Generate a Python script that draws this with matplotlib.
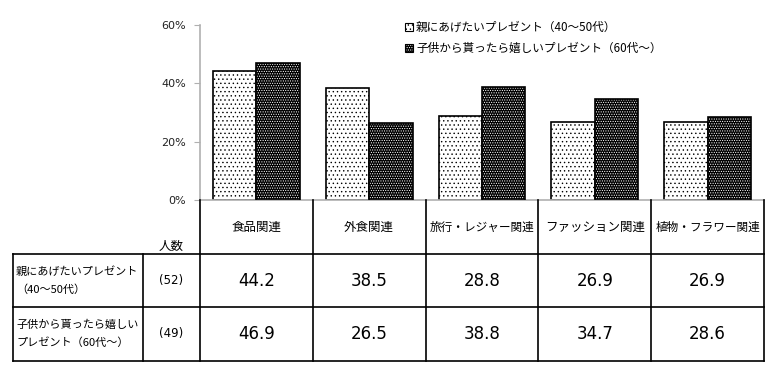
import matplotlib
matplotlib.use("Agg")
import matplotlib.pyplot as plt
from matplotlib.patches import Rectangle
from matplotlib.lines import Line2D

plt.rcParams['font.family'] = ['Noto Sans CJK JP', 'DejaVu Sans']
plt.rcParams['hatch.linewidth'] = 0.5

categories = ["食品関連", "外食関連", "旅行・レジャー関連", "ファッション関連", "植物・フラワー関連"]
series_names = ["親にあげたいプレゼント（40～50代）", "子供から貰ったら嬉しいプレゼント（60代～）"]
row_labels = [["親にあげたいプレゼント", "（40～50代）"], ["子供から貰ったら嬉しい", "プレゼント（60代～）"]]
counts = ["(52)", "(49)"]
parents = [44.2, 38.5, 28.8, 26.9, 26.9]
children = [46.9, 26.5, 38.8, 34.7, 28.6]
yticks = [0, 20, 40, 60]
ytick_labels = ["0%", "20%", "40%", "60%"]

W, H = 777, 373
fig = plt.figure(figsize=(W / 100, H / 100), dpi=100)

def fx(px):
    return px / W

def fy(py):
    return 1 - py / H

ax = fig.add_axes([fx(200), fy(200), fx(764) - fx(200), fy(25) - fy(200)])
n = len(categories)
xs = list(range(n))
bw = 0.385
ax.bar([x - bw / 2 for x in xs], parents, width=bw, facecolor='white', edgecolor='black',
       hatch='....', linewidth=1.2, zorder=2)
ax.bar([x + bw / 2 for x in xs], children, width=bw, facecolor='black', edgecolor='white',
       hatch='.......', linewidth=0, zorder=2)
ax.bar([x + bw / 2 for x in xs], children, width=bw, fill=False, edgecolor='black',
       linewidth=1.2, zorder=3)

ax.set_xlim(-0.5, n - 0.5)
ax.set_ylim(0, 60)
ax.set_yticks(yticks)
ax.set_yticklabels(ytick_labels, fontsize=8, color='#222222', family='DejaVu Sans')
ax.set_xticks([])
for s in ['top', 'right']:
    ax.spines[s].set_visible(False)
for s in ['left', 'bottom']:
    ax.spines[s].set_color('#b0b0b0')
    ax.spines[s].set_linewidth(1.2)
ax.tick_params(axis='y', length=4, color='#b0b0b0', pad=6)

# legend
leg_y = [27, 48]
for i, name in enumerate(series_names):
    if i == 0:
        r = Rectangle((fx(405), fy(leg_y[i] + 4)), fx(8), 8 / H, transform=fig.transFigure,
                      facecolor='white', edgecolor='black', hatch='....', linewidth=0.8)
    else:
        r = Rectangle((fx(405), fy(leg_y[i] + 4)), fx(8), 8 / H, transform=fig.transFigure,
                      facecolor='black', edgecolor='white', hatch='.......', linewidth=0)
    fig.add_artist(r)
    if i == 1:
        fig.add_artist(Rectangle((fx(405), fy(leg_y[i] + 4)), fx(8), 8 / H, transform=fig.transFigure,
                                 fill=False, edgecolor='black', linewidth=0.8))
    fig.text(fx(416), fy(leg_y[i]), name, fontsize=8.4, va='center', ha='left')

# table
fig.canvas.draw()
renderer = fig.canvas.get_renderer()
col_edges_px = []
for i in range(n + 1):
    xd = i - 0.5
    xp = ax.transData.transform((xd, 0))[0]
    col_edges_px.append(xp)
row_y = [200, 254, 307, 361]
left_x = 13
count_x = 143
lw = 1.2

def vline(x, y0, y1):
    fig.add_artist(Line2D([fx(x), fx(x)], [fy(y0), fy(y1)], color='black', linewidth=lw))

edges_fig = [e / fig.bbox.width for e in col_edges_px]
for e in edges_fig:
    fig.add_artist(Line2D([e, e], [fy(200), fy(361)], color='black', linewidth=lw))
for y in row_y[1:]:
    fig.add_artist(Line2D([fx(left_x), edges_fig[-1]], [fy(y), fy(y)], color='black', linewidth=lw))
vline(left_x, 254, 361)
vline(count_x, 254, 361)

for i, c in enumerate(categories):
    cx = (edges_fig[i] + edges_fig[i + 1]) / 2
    t = fig.text(cx, fy(227), c, fontsize=9, ha='center', va='center')
    colw = col_edges_px[i + 1] - col_edges_px[i]
    w = t.get_window_extent(renderer).width
    if w > colw - 8:
        t.set_fontsize(9 * (colw - 8) / w)
fig.text(fx(171.5), fy(246), "人数", fontsize=9, ha='center', va='center')

for r, vals in enumerate([parents, children]):
    yc = (row_y[r + 1] + row_y[r + 2]) / 2
    fig.text(fx(16), fy(yc - 9), row_labels[r][0], fontsize=8, ha='left', va='center')
    fig.text(fx(16), fy(yc + 9), row_labels[r][1], fontsize=8, ha='left', va='center')
    fig.text(fx(171.5), fy(yc), counts[r], fontsize=8.5, ha='center', va='center', family='DejaVu Sans')
    for i, v in enumerate(vals):
        cx = (edges_fig[i] + edges_fig[i + 1]) / 2
        fig.text(cx, fy(yc), f"{v:.1f}", fontsize=12, ha='center', va='center', family='DejaVu Sans')

fig.savefig("out.png", dpi=100)
